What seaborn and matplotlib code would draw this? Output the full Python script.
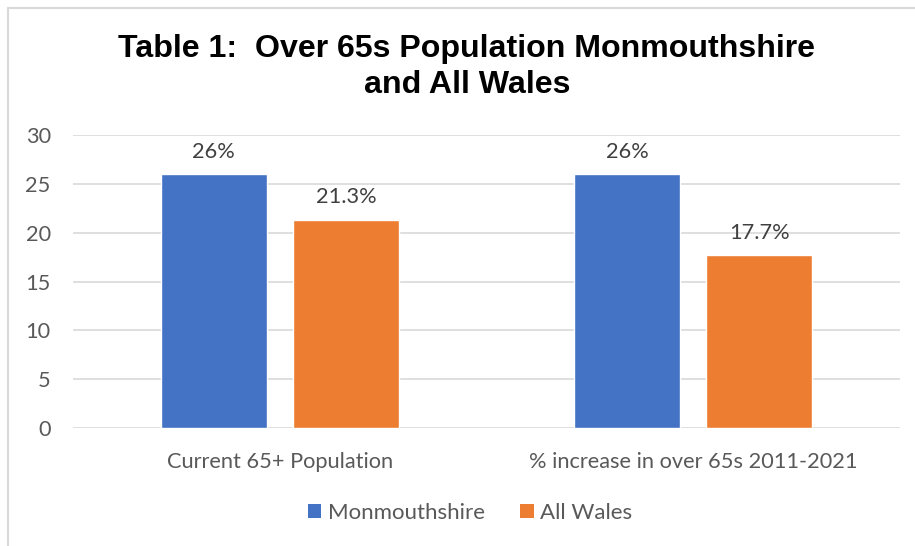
import matplotlib
matplotlib.use("Agg")
import matplotlib.pyplot as plt
from matplotlib.patches import Patch
from matplotlib.lines import Line2D
import pandas as pd
import seaborn as sns

# Chart data
categories = ["Current 65+ Population", "% increase in over 65s 2011-2021"]
series_names = ["Monmouthshire", "All Wales"]
monmouthshire = [26, 26]
all_wales = [21.3, 17.7]
y_ticks = [0, 5, 10, 15, 20, 25, 30]
title = "Table 1:  Over 65s Population Monmouthshire\nand All Wales"

colors = {"Monmouthshire": "#4472C4", "All Wales": "#ED7D31"}
grid_color = "#D9D9D9"
text_color = "#595959"
label_color = "#404040"
body_font = ["Lato", "DejaVu Sans"]

df = pd.DataFrame({
    "category": categories * 2,
    "series": [series_names[0]] * 2 + [series_names[1]] * 2,
    "value": monmouthshire + all_wales,
})

sns.set_theme(style="white")
plt.rcParams["font.family"] = body_font

W, H = 915, 546
fig = plt.figure(figsize=(W / 100, H / 100), dpi=100)
fig.patch.set_facecolor("white")

# Light frame around the chart area (top and left edges visible)
fig.add_artist(Line2D([8 / W, 8 / W], [0, 1 - 8 / H], transform=fig.transFigure,
                      color=grid_color, lw=1.5))
fig.add_artist(Line2D([8 / W, 1], [1 - 8 / H, 1 - 8 / H], transform=fig.transFigure,
                      color=grid_color, lw=1.5))

ax = fig.add_axes([73 / W, 1 - 428 / H, (900 - 73) / W, (428 - 135) / H])
sns.barplot(data=df, x="category", y="value", hue="series", order=categories,
            hue_order=series_names, palette=colors, width=0.64, gap=0.2,
            saturation=1, ax=ax, legend=False)

ax.set_ylim(0, 30)
ax.set_xlim(-0.5, 1.5)
ax.set_yticks(y_ticks)
ax.yaxis.grid(True, color=grid_color, lw=1.2)
ax.set_axisbelow(True)
for s in ax.spines.values():
    s.set_visible(False)
ax.set_xlabel("")
ax.set_ylabel("")
ax.tick_params(axis="both", length=0, labelsize=15.7, colors=text_color)
ax.tick_params(axis="y", pad=16)
ax.tick_params(axis="x", pad=17)

for container in ax.containers:
    ax.bar_label(container, labels=[f"{v:g}%" for v in container.datavalues],
                 padding=9, fontsize=15.7, color=label_color)

fig.text(467 / W, 1 - 67 / H, title, ha="center", va="center", fontsize=23.1,
         fontweight="bold", family=["Liberation Sans", "DejaVu Sans"],
         color="black", linespacing=1.26)

handles = [Patch(facecolor=colors[n], edgecolor="none") for n in series_names]
fig.legend(handles, series_names, loc="center", bbox_to_anchor=(470 / W, 1 - 513 / H),
           ncol=2, frameon=False, fontsize=16, handlelength=0.6, handleheight=0.6,
           handletextpad=0.3, columnspacing=1.6, labelcolor=text_color)

fig.savefig("out.png", dpi=100)
